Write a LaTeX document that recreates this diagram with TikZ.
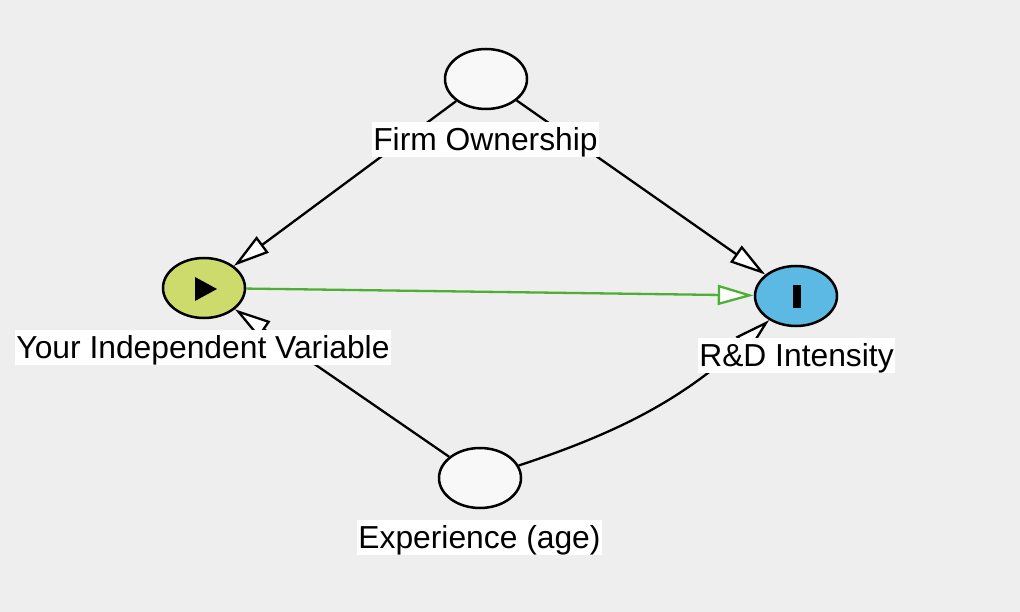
\documentclass[tikz,border=0pt]{standalone}
\usepackage{fontspec}
\setmainfont{Liberation Sans}
\usetikzlibrary{arrows.meta,shapes.geometric}
\definecolor{bg}{HTML}{EEEEEE}
\definecolor{expo}{HTML}{CDDB6C}
\definecolor{outc}{HTML}{5CB9E3}
\definecolor{caus}{HTML}{4DAF35}
\definecolor{nodefill}{HTML}{F8F8F8}
\begin{document}
\begin{tikzpicture}[x=1pt,y=-1pt,
  var/.style={ellipse, draw=black, line width=2.5pt, minimum width=82pt, minimum height=60pt, inner sep=0pt, fill=nodefill},
  lbl/.style={fill=white, inner xsep=1.5pt, inner ysep=0.5pt, text height=28pt, text depth=6pt, font=\fontsize{31.8}{36}\selectfont},
  edge/.style={line width=2.3pt, -{Triangle[length=36pt,width=20pt,fill=white]}},
  causal/.style={edge, draw=caus}]
\fill[bg] (0,0) rectangle (1020,612);
\useasboundingbox (0,0) rectangle (1020,612);
% variables
\node[var] (fo) at (486,79) {};
\node[var, fill=expo] (iv) at (204,288) {};
\node[var, fill=outc] (rd) at (796,296) {};
\node[var] (ex) at (480,478) {};
% icons
\fill[black] (195,277) -- (195,301) -- (217,289) -- cycle;
\fill[black] (793,285) rectangle (801,308);
% edges
\draw[edge] (fo) -- (iv);
\draw[edge] (fo) -- (rd);
\draw[edge] (ex) -- (iv);
\draw[edge] (ex) to[bend right=12] (rd);
\draw[causal] (iv) -- (rd);
% labels
\node[lbl] (lfo) at (485.5,139.5) {Firm Ownership};
\node[lbl] (liv) at (203,347.5) {Your Independent Variable};
\node[lbl] (lrd) at (796.5,355) {R\&D Intensity};
\node[lbl] (lex) at (479.5,537.5) {Experience (age)};
\end{tikzpicture}
\end{document}
